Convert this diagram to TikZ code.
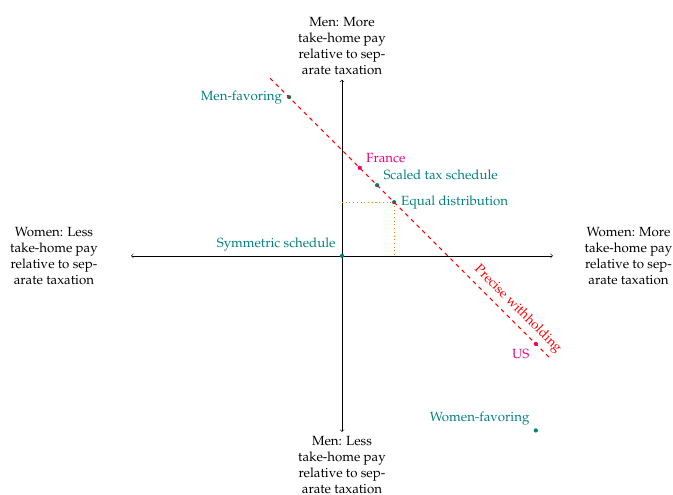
\documentclass[tikz,border=0pt]{standalone}
\usepackage[T1]{fontenc}
\usepackage[usenames]{xcolor}
\usepackage{mathpazo}
\usetikzlibrary{positioning}

\definecolor{ptpink}{RGB}{232,0,128}

\begin{document}
\begin{tikzpicture}[>=to]
	\tikzstyle{every node}=[align=center]
	\tikzstyle{scheme}=[circle,fill=teal,inner sep=0pt,minimum size=3.2pt]
	\tikzstyle{country}=[circle,fill=ptpink,inner sep=0pt,minimum size=3.2pt]
	\tikzstyle{schemelabel}=[text=teal]
	\tikzstyle{countrylabel}=[text=ptpink]
	\useasboundingbox (-9.05,-6.32) rectangle (8.76,6.77);
	% axes
	\coordinate (O) at (0,0);
	\coordinate (W) at (-5.58,0);
	\coordinate (E) at (5.58,0);
	\coordinate (S) at (0,-4.66);
	\coordinate (N) at (0,4.66);
	\draw[<->] (W) -- (E);
	\draw[<->] (S) -- (N);
	\node[above=0pt of N] (nlabel) {Men: More\\take-home pay\\relative to sep-\\arate taxation};
	\node[below=0pt of S] (slabel) {Men: Less\\take-home pay\\relative to sep-\\arate taxation};
	\node[left=0.76cm of W] (wlabel) {Women: Less\\take-home pay\\relative to sep-\\arate taxation};
	\node[right=0.72cm of E] (elabel) {Women: More\\take-home pay\\relative to sep-\\arate taxation};
	% schedules
	\node[scheme] (equal) at (1.38,1.42) {};
	\draw[orange,thick,dotted] (equal -| O) -- (equal.center) -- (equal |- O);
	\node[scheme] (symm) at (O) {};
	\node[scheme] (menfav) at (-1.40,4.20) {};
	\node[scheme] (scaled) at (0.93,1.87) {};
	\node[scheme] (womenfav) at (5.13,-4.62) {};
	\node[country] (france) at (0.47,2.33) {};
	\node[country] (us) at (5.13,-2.33) {};
	\node[schemelabel,left=0pt of menfav] {Men-favoring};
	\node[schemelabel,above right=-1pt and 0pt of scaled] {Scaled tax schedule};
	\node[schemelabel,right=0pt of equal] {Equal distribution};
	\node[schemelabel,above left=-1pt and 0pt of symm] {Symmetric schedule};
	\node[schemelabel,above left=-1pt and 0pt of womenfav] {Women-favoring};
	\node[countrylabel,above right=-1pt and 0pt of france] {France};
	\node[countrylabel,below left=-1pt and 0pt of us] {US};
	% precise withholding
	\coordinate (pwtop) at (-1.90,4.70);
	\coordinate (pwbot) at (5.55,-2.75);
	\draw[red,thick,dashed] (pwtop) -- (pwbot) node[pos=0.85,sloped,above] {Precise withholding};
\end{tikzpicture}
\end{document}
